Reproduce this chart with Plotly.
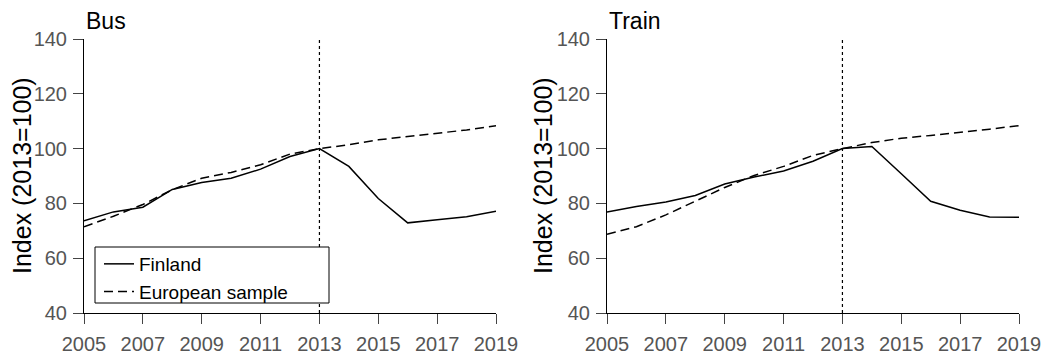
import plotly.graph_objects as go

# Passenger index, 2013 = 100
years = list(range(2005, 2020))

bus_finland = [73.7, 76.9, 78.6, 85.1, 87.6, 89.2, 92.5, 97.1, 100.0, 93.5, 81.8, 72.9, 74.0, 75.1, 77.1]
bus_europe = [71.5, 75.3, 79.6, 85.0, 89.2, 91.3, 94.1, 98.0, 100.0, 101.4, 103.2, 104.4, 105.6, 106.8, 108.3]

train_finland = [76.9, 78.9, 80.5, 82.9, 87.1, 89.6, 91.8, 95.4, 100.0, 100.8, 90.8, 80.8, 77.5, 75.0, 74.9]
train_europe = [68.7, 71.5, 75.8, 80.8, 85.8, 90.2, 93.5, 97.5, 100.0, 102.2, 103.8, 104.8, 105.9, 107.1, 108.4]

panel_titles = ["Bus", "Train"]
series_names = ["Finland", "European sample"]
base_year = 2013
y_ticks = [40, 60, 80, 100, 120, 140]
x_ticks = list(range(2005, 2020, 2))

W, H = 1042, 358
FONT = "Liberation Sans, Arial, Helvetica, sans-serif"

fig = go.Figure()

panels = [
    ("x", "y", bus_finland, bus_europe, True),
    ("x2", "y2", train_finland, train_europe, False),
]
for xa, ya, fin, eur, show in panels:
    fig.add_trace(go.Scatter(
        x=years, y=fin, mode="lines", name=series_names[0],
        line=dict(color="black", width=1.5),
        xaxis=xa, yaxis=ya, showlegend=show,
    ))
    fig.add_trace(go.Scatter(
        x=years, y=eur, mode="lines", name=series_names[1],
        line=dict(color="black", width=1.5, dash="9px,5px"),
        xaxis=xa, yaxis=ya, showlegend=show,
    ))
    # reference year marker
    fig.add_shape(
        type="line", xref=xa, yref=ya,
        x0=base_year, x1=base_year, y0=y_ticks[0], y1=y_ticks[-1],
        line=dict(color="black", width=1.2, dash="dot"),
    )

# framed, opaque legend box behind the legend entries
fig.add_shape(
    type="rect", xref="paper", yref="paper", layer="above",
    x0=95 / W, x1=329 / W, y0=(H - 303) / H, y1=(H - 247) / H,
    line=dict(color="black", width=1), fillcolor="white",
)

y_dom = [45 / H, 319 / H]
common_x = dict(
    range=[years[0], years[-1]], tickvals=x_ticks, ticks="outside", ticklen=10,
    tickcolor="#444", tickwidth=1, showline=True, linecolor="black", linewidth=1,
    showgrid=False, zeroline=False, automargin=False, ticklabelstandoff=3,
    tickfont=dict(family=FONT, size=20, color="#555"),
)
common_y = dict(
    range=[y_ticks[0], y_ticks[-1]], tickvals=y_ticks, ticks="outside", ticklen=10,
    tickcolor="#444", tickwidth=1, showline=True, linecolor="black", linewidth=1,
    showgrid=False, zeroline=False, domain=y_dom, automargin=False,
    ticklabelstandoff=2,
    tickfont=dict(family=FONT, size=20, color="#555"),
)

fig.update_layout(
    width=W, height=H, autosize=False,
    margin=dict(l=0, r=0, t=0, b=0, pad=0, autoexpand=False),
    paper_bgcolor="white", plot_bgcolor="white",
    font=dict(family=FONT, color="black"),
    xaxis=dict(domain=[84 / W, 496 / W], anchor="y", **common_x),
    yaxis=dict(anchor="x", **common_y),
    xaxis2=dict(domain=[607 / W, 1019 / W], anchor="y2", **common_x),
    yaxis2=dict(anchor="x2", **common_y),
    legend=dict(
        x=99 / W, y=(H - 245) / H, xanchor="left", yanchor="top",
        borderwidth=0, bgcolor="rgba(0,0,0,0)",
        font=dict(family=FONT, size=19, color="black"),
        tracegroupgap=0, itemwidth=30,
    ),
    showlegend=True,
)

annotations = []
for i, xl in enumerate([84, 607]):
    annotations.append(dict(
        text=panel_titles[i], xref="paper", yref="paper",
        x=xl / W, y=(H - 21) / H, xanchor="left", yanchor="middle",
        showarrow=False, font=dict(family=FONT, size=23, color="black"),
    ))
for xc in [22, 543]:
    annotations.append(dict(
        text="Index (2013=100)", xref="paper", yref="paper",
        x=xc / W, y=(H - 176) / H, xanchor="center", yanchor="middle",
        textangle=-90, showarrow=False,
        font=dict(family=FONT, size=25, color="black"),
    ))
fig.update_layout(annotations=annotations)

fig.write_html("out.html")
